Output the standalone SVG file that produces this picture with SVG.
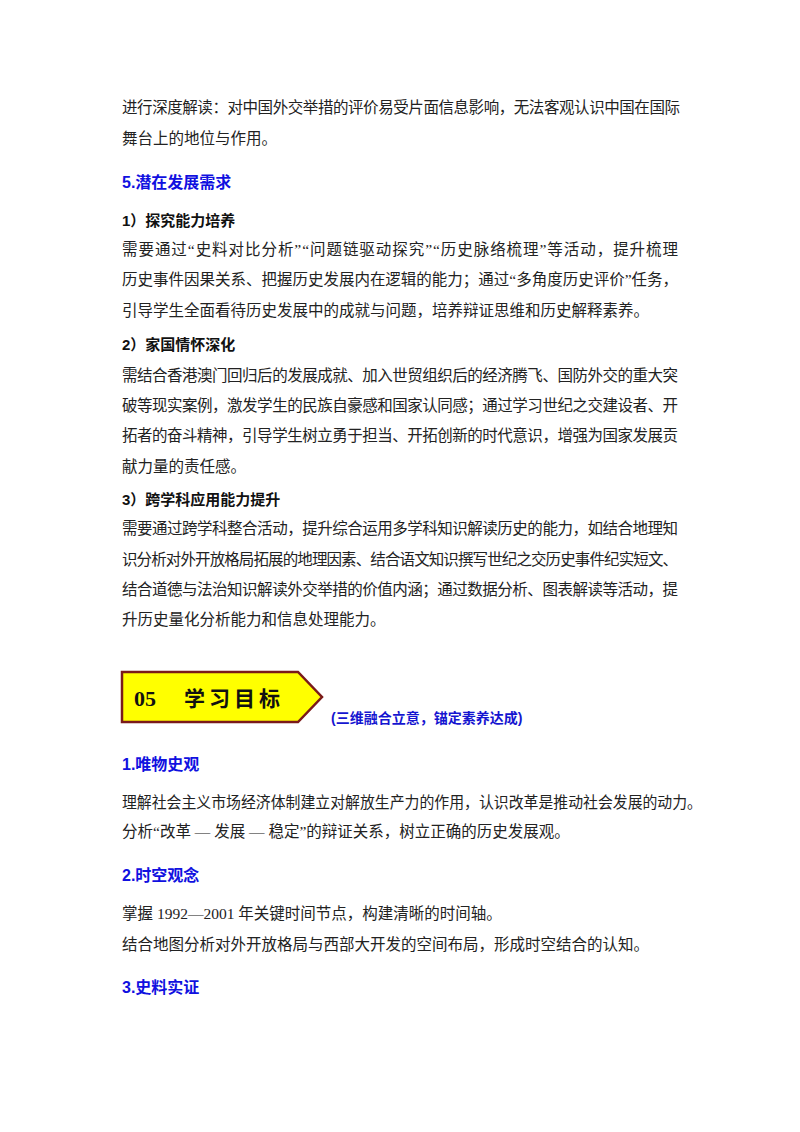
<svg xmlns="http://www.w3.org/2000/svg" width="800" height="1132" viewBox="0 0 800 1132">
<style>
.b{font-family:"Liberation Serif","Noto Sans CJK SC",serif;font-size:15.5px;fill:#222}
.h{font-family:"Liberation Sans","Noto Sans CJK SC",sans-serif;font-size:16px;font-weight:bold;fill:#1010e0}
.s{font-family:"Liberation Sans","Noto Sans CJK SC",sans-serif;font-size:15px;font-weight:bold;fill:#111}
</style>
<rect width="800" height="1132" fill="#fff"/>
<text class="b" x="122" y="113" textLength="558" lengthAdjust="spacing">进行深度解读：对中国外交举措的评价易受片面信息影响，无法客观认识中国在国际</text>
<text class="b" x="122" y="144">舞台上的地位与作用。</text>
<text class="h" x="122" y="188">5.潜在发展需求</text>
<text class="s" x="122" y="226">1）探究能力培养</text>
<text class="b" x="122" y="255" textLength="556" lengthAdjust="spacing">需要通过“史料对比分析”“问题链驱动探究”“历史脉络梳理”等活动，提升梳理</text>
<text class="b" x="122" y="285" textLength="556" lengthAdjust="spacing">历史事件因果关系、把握历史发展内在逻辑的能力；通过“多角度历史评价”任务，</text>
<text class="b" x="122" y="316">引导学生全面看待历史发展中的成就与问题，培养辩证思维和历史解释素养。</text>
<text class="s" x="122" y="350">2）家国情怀深化</text>
<text class="b" x="122" y="381" textLength="556" lengthAdjust="spacing">需结合香港澳门回归后的发展成就、加入世贸组织后的经济腾飞、国防外交的重大突</text>
<text class="b" x="122" y="411" textLength="556" lengthAdjust="spacing">破等现实案例，激发学生的民族自豪感和国家认同感；通过学习世纪之交建设者、开</text>
<text class="b" x="122" y="441" textLength="556" lengthAdjust="spacing">拓者的奋斗精神，引导学生树立勇于担当、开拓创新的时代意识，增强为国家发展贡</text>
<text class="b" x="122" y="472">献力量的责任感。</text>
<text class="s" x="122" y="505">3）跨学科应用能力提升</text>
<text class="b" x="122" y="534" textLength="556" lengthAdjust="spacing">需要通过跨学科整合活动，提升综合运用多学科知识解读历史的能力，如结合地理知</text>
<text class="b" x="122" y="565" textLength="556" lengthAdjust="spacing">识分析对外开放格局拓展的地理因素、结合语文知识撰写世纪之交历史事件纪实短文、</text>
<text class="b" x="122" y="595" textLength="556" lengthAdjust="spacing">结合道德与法治知识解读外交举措的价值内涵；通过数据分析、图表解读等活动，提</text>
<text class="b" x="122" y="625">升历史量化分析能力和信息处理能力。</text>
<g id="banner">
<polygon points="122,672 298,672 322,697 298,722 122,722" fill="#ffff00" stroke="#7a1a1a" stroke-width="2.5"/>
<text x="134" y="706" font-family="Liberation Serif,Noto Sans CJK SC,serif" font-size="22" font-weight="bold" fill="#111">05</text>
<text x="184" y="706" font-family="Noto Sans CJK SC,serif" font-size="21" font-weight="bold" fill="#111" letter-spacing="4">学习目标</text>
</g>
<text x="331" y="723" font-family="Liberation Sans,Noto Sans CJK SC,sans-serif" font-size="14" font-weight="bold" fill="#1515d0">(三维融合立意，锚定素养达成)</text>
<text class="h" x="122" y="770">1.唯物史观</text>
<text class="b" x="122" y="808" textLength="580" lengthAdjust="spacingAndGlyphs">理解社会主义市场经济体制建立对解放生产力的作用，认识改革是推动社会发展的动力。</text>
<text class="b" x="122" y="837">分析“改革 — 发展 — 稳定”的辩证关系，树立正确的历史发展观。</text>
<text class="h" x="122" y="881">2.时空观念</text>
<text class="b" x="122" y="919">掌握 1992—2001 年关键时间节点，构建清晰的时间轴。</text>
<text class="b" x="122" y="950">结合地图分析对外开放格局与西部大开发的空间布局，形成时空结合的认知。</text>
<text class="h" x="122" y="993">3.史料实证</text>
</svg>
